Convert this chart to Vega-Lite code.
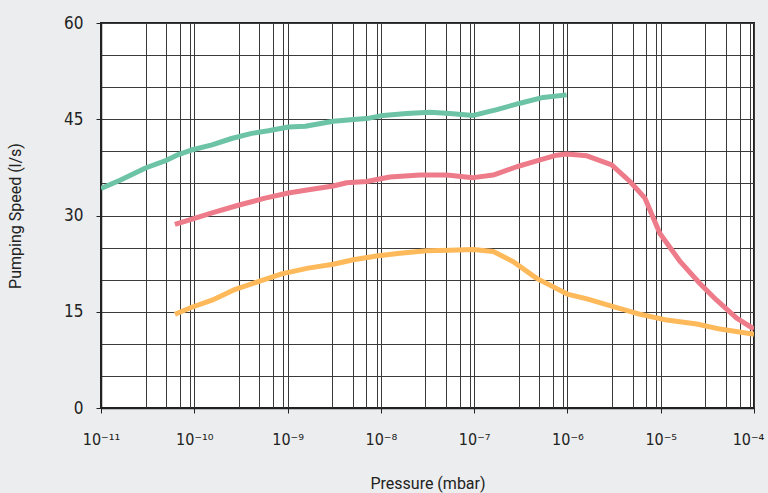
{
  "$schema": "https://vega.github.io/schema/vega-lite/v6.json",
  "autosize": "none",
  "width": 653,
  "height": 385,
  "padding": {"left": 101, "top": 23, "right": 14, "bottom": 85},
  "background": "#ecedee",
  "view": {"fill": "white", "stroke": "#222222", "strokeWidth": 2},
  "config": {
    "axis": {
      "gridColor": "#3a3a3a",
      "gridOpacity": 1,
      "gridWidth": 1,
      "domainColor": "#222222",
      "domainWidth": 1.5,
      "tickColor": "#222222",
      "tickSize": 5,
      "labelFont": "DejaVu Sans Condensed, DejaVu Sans, Roboto",
      "labelColor": "#222222",
      "titleFont": "Roboto",
      "titleFontWeight": "normal",
      "titleColor": "#222222",
      "titleFontSize": 16
    }
  },
  "data": {
    "values": [
      {"series": "A", "p": 1e-11, "s": 34.2},
      {"series": "A", "p": 1.6e-11, "s": 35.5},
      {"series": "A", "p": 3e-11, "s": 37.4},
      {"series": "A", "p": 4.85e-11, "s": 38.5},
      {"series": "A", "p": 6.5e-11, "s": 39.4},
      {"series": "A", "p": 9.3e-11, "s": 40.2},
      {"series": "A", "p": 1.55e-10, "s": 41.0},
      {"series": "A", "p": 2.51e-10, "s": 42.0},
      {"series": "A", "p": 4.12e-10, "s": 42.8},
      {"series": "A", "p": 6.22e-10, "s": 43.2},
      {"series": "A", "p": 1.02e-9, "s": 43.8},
      {"series": "A", "p": 1.55e-9, "s": 43.9},
      {"series": "A", "p": 3.09e-9, "s": 44.7},
      {"series": "A", "p": 5.5e-9, "s": 45.0},
      {"series": "A", "p": 7.05e-9, "s": 45.1},
      {"series": "A", "p": 1.06e-8, "s": 45.6},
      {"series": "A", "p": 1.89e-8, "s": 45.9},
      {"series": "A", "p": 3.37e-8, "s": 46.1},
      {"series": "A", "p": 5.51e-8, "s": 45.9},
      {"series": "A", "p": 9.8e-8, "s": 45.6},
      {"series": "A", "p": 1.75e-7, "s": 46.5},
      {"series": "A", "p": 3.1e-7, "s": 47.5},
      {"series": "A", "p": 5.5e-7, "s": 48.4},
      {"series": "A", "p": 9.8e-7, "s": 48.8},
      {"series": "B", "p": 6.2e-11, "s": 28.6},
      {"series": "B", "p": 9.3e-11, "s": 29.4},
      {"series": "B", "p": 1.55e-10, "s": 30.4},
      {"series": "B", "p": 2.96e-10, "s": 31.6},
      {"series": "B", "p": 5.73e-10, "s": 32.7},
      {"series": "B", "p": 1.02e-9, "s": 33.5},
      {"series": "B", "p": 1.82e-9, "s": 34.1},
      {"series": "B", "p": 3.09e-9, "s": 34.6},
      {"series": "B", "p": 4.3e-9, "s": 35.1},
      {"series": "B", "p": 7.05e-9, "s": 35.3},
      {"series": "B", "p": 1.25e-8, "s": 36.0},
      {"series": "B", "p": 2.63e-8, "s": 36.3},
      {"series": "B", "p": 5.08e-8, "s": 36.3},
      {"series": "B", "p": 9.8e-8, "s": 35.9},
      {"series": "B", "p": 1.6e-7, "s": 36.3},
      {"series": "B", "p": 2.86e-7, "s": 37.6},
      {"series": "B", "p": 4.68e-7, "s": 38.5},
      {"series": "B", "p": 7.67e-7, "s": 39.4},
      {"series": "B", "p": 9.8e-7, "s": 39.6},
      {"series": "B", "p": 1.62e-6, "s": 39.3},
      {"series": "B", "p": 2.98e-6, "s": 37.9},
      {"series": "B", "p": 4.68e-6, "s": 35.3},
      {"series": "B", "p": 6.78e-6, "s": 32.7},
      {"series": "B", "p": 9.8e-6, "s": 27.2},
      {"series": "B", "p": 1.62e-5, "s": 22.8},
      {"series": "B", "p": 2.63e-5, "s": 19.4},
      {"series": "B", "p": 3.98e-5, "s": 16.8},
      {"series": "B", "p": 6.52e-5, "s": 14.0},
      {"series": "B", "p": 1e-4, "s": 12.3},
      {"series": "C", "p": 6.2e-11, "s": 14.6},
      {"series": "C", "p": 9.4e-11, "s": 15.7},
      {"series": "C", "p": 1.55e-10, "s": 16.8},
      {"series": "C", "p": 2.75e-10, "s": 18.5},
      {"series": "C", "p": 4.85e-10, "s": 19.7},
      {"series": "C", "p": 8.65e-10, "s": 20.9},
      {"series": "C", "p": 1.66e-9, "s": 21.8},
      {"series": "C", "p": 3.09e-9, "s": 22.4},
      {"series": "C", "p": 5.07e-9, "s": 23.1},
      {"series": "C", "p": 9.0e-9, "s": 23.7},
      {"series": "C", "p": 1.6e-8, "s": 24.1},
      {"series": "C", "p": 3.1e-8, "s": 24.5},
      {"series": "C", "p": 5.5e-8, "s": 24.6},
      {"series": "C", "p": 9.8e-8, "s": 24.7},
      {"series": "C", "p": 1.6e-7, "s": 24.4},
      {"series": "C", "p": 2.63e-7, "s": 22.8},
      {"series": "C", "p": 4.68e-7, "s": 20.2},
      {"series": "C", "p": 1.02e-6, "s": 17.7},
      {"series": "C", "p": 1.62e-6, "s": 17.0},
      {"series": "C", "p": 3.1e-6, "s": 15.8},
      {"series": "C", "p": 6.03e-6, "s": 14.6},
      {"series": "C", "p": 1.16e-5, "s": 13.7},
      {"series": "C", "p": 2.43e-5, "s": 13.1},
      {"series": "C", "p": 4.32e-5, "s": 12.3},
      {"series": "C", "p": 1e-4, "s": 11.5}
    ]
  },
  "mark": {"type": "line", "strokeWidth": 5, "strokeCap": "butt", "strokeJoin": "round", "clip": true},
  "encoding": {
    "x": {
      "field": "p",
      "type": "quantitative",
      "scale": {"type": "log", "domain": [1e-11, 1e-4], "nice": false},
      "axis": {
        "title": "Pressure (mbar)",
        "titlePadding": 28,
        "values": [1e-11, 3e-11, 5e-11, 7e-11, 9e-11,
                   1e-10, 3e-10, 5e-10, 7e-10, 9e-10,
                   1e-9, 3e-9, 5e-9, 7e-9, 9e-9,
                   1e-8, 3e-8, 5e-8, 7e-8, 9e-8,
                   1e-7, 3e-7, 5e-7, 7e-7, 9e-7,
                   1e-6, 3e-6, 5e-6, 7e-6, 9e-6,
                   1e-5, 3e-5, 5e-5, 7e-5, 9e-5, 1e-4],
        "labelExpr": "abs(log(datum.value)/LN10 - round(log(datum.value)/LN10)) < 0.001 ? ({'-11':'10⁻¹¹','-10':'10⁻¹⁰','-9':'10⁻⁹','-8':'10⁻⁸','-7':'10⁻⁷','-6':'10⁻⁶','-5':'10⁻⁵','-4':'10⁻⁴'})[''+round(log(datum.value)/LN10)] : ''",
        "labelFontSize": 16,
        "labelPadding": 18,
        "labelOverlap": false,
        "labelFlush": false,
        "labelOffset": {"condition": {"test": "datum.value > 5e-5", "value": -6}, "value": 0},
        "tickOpacity": {"condition": {"test": "abs(log(datum.value)/LN10 - round(log(datum.value)/LN10)) < 0.001", "value": 1}, "value": 0},
        "grid": true
      }
    },
    "y": {
      "field": "s",
      "type": "quantitative",
      "scale": {"domain": [0, 60], "nice": false},
      "axis": {
        "title": "Pumping Speed (l/s)",
        "titlePadding": 40,
        "values": [0, 5, 10, 15, 20, 25, 30, 35, 40, 45, 50, 55, 60],
        "labelExpr": "datum.value % 15 === 0 ? datum.label : ''",
        "labelFontSize": 17,
        "labelPadding": 13,
        "tickOpacity": {"condition": {"test": "datum.value % 15 !== 0", "value": 0}, "value": 1},
        "grid": true
      }
    },
    "color": {
      "field": "series",
      "type": "nominal",
      "scale": {"domain": ["A", "B", "C"], "range": ["#6cc3a5", "#ee7b89", "#fdb95a"]},
      "legend": null
    }
  }
}
